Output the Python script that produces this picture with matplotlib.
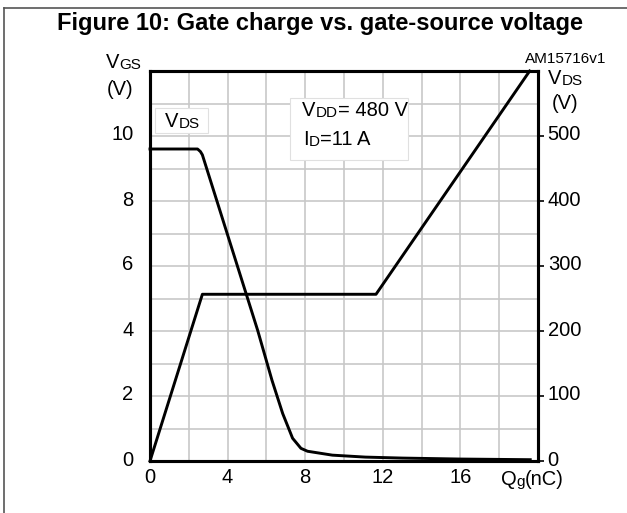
import numpy as np
import matplotlib
matplotlib.use("Agg")
import matplotlib.pyplot as plt
from matplotlib.patches import Rectangle
from matplotlib.lines import Line2D
from matplotlib.transforms import ScaledTranslation

plt.rcParams['font.family'] = ['Liberation Sans', 'DejaVu Sans']

# gate charge curve, Qg (nC) vs VGS (V)
qg_vgs = [0, 2.7, 11.65, 19.57]
vgs = [0, 5.13, 5.13, 12.0]

# drain-source voltage, Qg (nC) vs VDS (V)
qg_vds = [0, 2.45, 2.6, 2.7, 5.55, 6.29, 6.84, 7.35, 7.78, 8.12, 9.4, 11.1, 13, 16, 19.6]
vds = [480, 480, 476, 471, 201, 124, 73, 35, 19.5, 15, 9, 6, 4.5, 3, 2]

x_ticks = [0, 4, 8, 12, 16]
vgs_ticks = [0, 2, 4, 6, 8, 10]
vds_ticks = [0, 100, 200, 300, 400, 500]

FS = 14.5
SUB = 11

def subtext(ax, x, y, parts, transform):
    # parts: list of (text, fontsize); chained left to right on one baseline
    t0 = ax.text(x, y, parts[0][0], fontsize=parts[0][1], transform=transform,
                 ha='left', va='baseline', zorder=6)
    prev = t0
    for s, fs in parts[1:]:
        prev = ax.annotate(s, xy=(1, 0), xycoords=(prev, t0), fontsize=fs,
                           ha='left', va='bottom', zorder=6,
                           annotation_clip=False)
    return t0

fig = plt.figure(figsize=(6.27, 5.13), dpi=100)
ax = fig.add_axes([150/627, 1-461/513, 388/627, 390/513])
ax2 = ax.twinx()

ax.set_xlim(0, 20)
ax.set_ylim(0, 12)
ax2.set_ylim(0, 600)

ax.set_xticks(x_ticks)
ax.set_xticks(np.arange(0, 21, 2), minor=True)
ax.set_yticks(vgs_ticks)
ax.set_yticks(np.arange(0, 13, 1), minor=True)
ax.grid(True, which='both', color='#c8c8c8', linewidth=1.2)
ax.set_axisbelow(True)
ax.tick_params(which='both', length=0, labelsize=FS)
ax.tick_params(axis='y', pad=12)
ax.tick_params(axis='x', pad=5)
ax.set_xticklabels([str(v) for v in x_ticks])

ax2.set_yticks(vds_ticks)
ax2.tick_params(axis='y', length=4, width=1.2, labelsize=FS, pad=3)

# nudge y tick labels up a little, as in the datasheet
up = ScaledTranslation(0, 3/100, fig.dpi_scale_trans)
for lab in ax.get_yticklabels() + ax2.get_yticklabels():
    lab.set_transform(lab.get_transform() + up)

for a in (ax, ax2):
    for s in a.spines.values():
        s.set_linewidth(2.2)
        s.set_color('black')

ax.plot(qg_vgs, vgs, color='black', lw=2.1, zorder=4, clip_on=False)
ax2.plot(qg_vds, vds, color='black', lw=2.1, zorder=4, clip_on=False)

# boxes
ax.add_patch(Rectangle((0.26, 10.09), 2.71, 0.78, facecolor='white',
                       edgecolor='#e0e0e0', lw=0.8, zorder=3))
ax.add_patch(Rectangle((7.23, 9.26), 6.05, 1.91, facecolor='white',
                       edgecolor='#e0e0e0', lw=0.8, zorder=3))
subtext(ax, 0.77, 10.27, [("V", FS), ("DS", SUB)], ax.transData)
subtext(ax, 7.85, 10.62, [("V", FS), ("DD", SUB), ("= 480 V", FS)], ax.transData)
subtext(ax, 7.9, 9.72, [("I", FS), ("D", SUB), ("=11 A", FS)], ax.transData)

# axis labels
subtext(ax, 106/627, 1-68/513, [("V", FS), ("GS", SUB)], fig.transFigure)
fig.text(107/627, 1-95/513, "(V)", fontsize=FS, ha='left', va='baseline')
subtext(ax, 548/627, 1-84/513, [("V", FS), ("DS", SUB)], fig.transFigure)
fig.text(552/627, 1-109/513, "(V)", fontsize=FS, ha='left', va='baseline')
subtext(ax, 501/627, 1-485/513, [("Q", FS), ("g", SUB), ("(nC)", FS)], fig.transFigure)

fig.text(606/627, 1-63/513, "AM15716v1", fontsize=11, ha='right', va='baseline')
fig.text(320/627, 1-30/513, "Figure 10: Gate charge vs. gate-source voltage",
         fontsize=17, fontweight='bold', ha='center', va='baseline')

# frame of the figure (top and left edges)
fig.add_artist(Line2D([3.5/627, 3.5/627], [0, 1-7.5/513], transform=fig.transFigure,
                      color='#555555', lw=1.2))
fig.add_artist(Line2D([3.5/627, 1], [1-7.5/513, 1-7.5/513], transform=fig.transFigure,
                      color='#555555', lw=1.2))

fig.savefig("out.png", dpi=100)
